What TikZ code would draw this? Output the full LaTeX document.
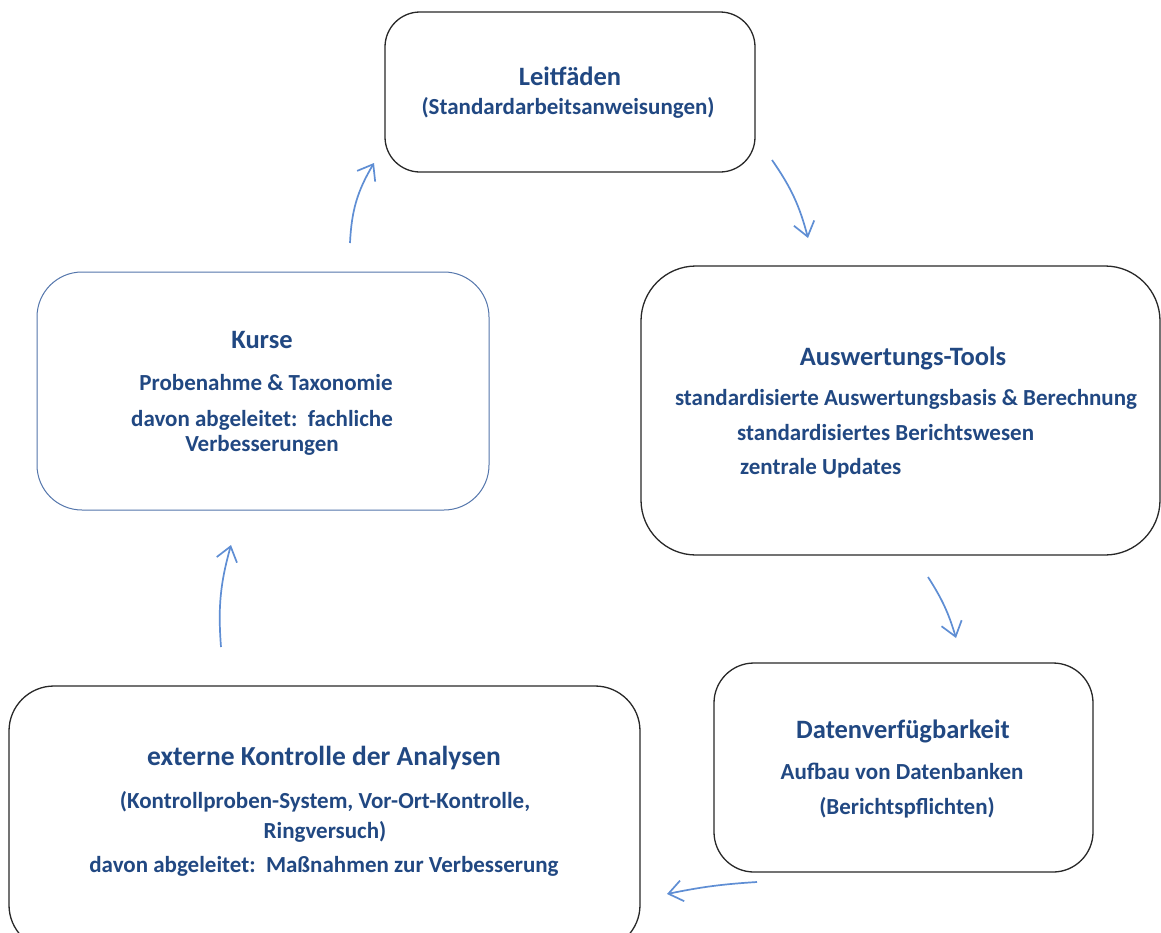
\documentclass[tikz,border=0pt]{standalone}
\usepackage{fontspec}
\setmainfont{Carlito}
\usetikzlibrary{arrows.meta}
\definecolor{txt}{RGB}{33,72,130}
\definecolor{arr}{RGB}{95,142,212}
\definecolor{kbord}{RGB}{84,118,172}
\definecolor{bord}{RGB}{40,40,40}
\tikzset{
  box/.style={draw=bord, line width=1.3pt, rectangle, inner sep=0pt},
  bluebox/.style={draw=kbord, line width=1pt, rectangle, inner sep=0pt},
  ttl/.style={font=\fontsize{26.5}{30}\selectfont\bfseries, text=txt, inner sep=0pt, text height=0.64em, text depth=0pt},
  bod/.style={font=\fontsize{23}{27}\selectfont\bfseries, text=txt, inner sep=0pt, text height=0.64em, text depth=0pt},
  flow/.style={draw=arr, line width=1.7pt, -{Straight Barb[length=14pt,width=21pt,line width=1.7pt]}}
}
\begin{document}
\begin{tikzpicture}[x=1pt,y=-1pt]
\clip (0,0) rectangle (1161,932);
\fill[white] (0,0) rectangle (1161,932);
% boxes
\node[box, rounded corners=35pt, minimum width=370pt, minimum height=160pt] (leit) at (570,92) {};
\node[bluebox, rounded corners=45pt, minimum width=452pt, minimum height=238pt] (kurse) at (263,391) {};
\node[box, rounded corners=55pt, minimum width=519pt, minimum height=289pt] (ausw) at (900.5,410.5) {};
\node[box, rounded corners=40pt, minimum width=379pt, minimum height=209pt] (daten) at (903.5,767.5) {};
\node[box, rounded corners=45pt, minimum width=631pt, minimum height=264pt] (kontr) at (324.5,818) {};
% texts
\node[ttl] (leitT) at (570,82) {Leitfäden};
\node[bod] (leitB) at (568,111) {(Standardarbeitsanweisungen)};
\node[ttl] (kurseT) at (262,345) {Kurse};
\node[bod] (kurseB1) at (266,387) {Probenahme \& Taxonomie};
\node[bod] (kurseB2) at (262,423) {davon abgeleitet:\ \ fachliche};
\node[bod] (kurseB3) at (262,448) {Verbesserungen};
\node[ttl] (auswT) at (903,362) {Auswertungs-Tools};
\node[bod] (auswB1) at (906,402) {standardisierte Auswertungsbasis \& Berechnung};
\node[bod, anchor=west] (auswB2) at (737,437) {standardisiertes Berichtswesen};
\node[bod, anchor=west] (auswB3) at (740,471) {zentrale Updates};
\node[ttl] (datenT) at (903,735) {Datenverfügbarkeit};
\node[bod] (datenB1) at (902,776) {Aufbau von Datenbanken};
\node[bod] (datenB2) at (907,811) {(Berichtspflichten)};
\node[ttl, font=\fontsize{27.5}{31}\selectfont\bfseries] (kontrT) at (324,762) {externe Kontrolle der Analysen};
\node[bod] (kontrB1) at (325,805) {(Kontrollproben-System, Vor-Ort-Kontrolle,};
\node[bod] (kontrB2) at (325,835) {Ringversuch)};
\node[bod] (kontrB3) at (324,869) {davon abgeleitet:\ \ Maßnahmen zur Verbesserung};
% arrow end points
\coordinate (a1s) at (350,243); \coordinate (a1e) at (374,163);
\coordinate (a2s) at (772,160); \coordinate (a2e) at (808,238);
\coordinate (a3s) at (928,577); \coordinate (a3e) at (956,638);
\coordinate (a4s) at (757,882); \coordinate (a4e) at (667,894);
\coordinate (a5s) at (221,647); \coordinate (a5e) at (231,545);
\draw[flow] (a1s) to[bend left=14] (a1e);
\draw[flow] (a2s) to[bend left=10] (a2e);
\draw[flow] (a3s) to[bend left=8] (a3e);
\draw[flow] (a4s) to[bend right=4] (a4e);
\draw[flow] (a5s) to[bend left=10] (a5e);
\end{tikzpicture}
\end{document}
